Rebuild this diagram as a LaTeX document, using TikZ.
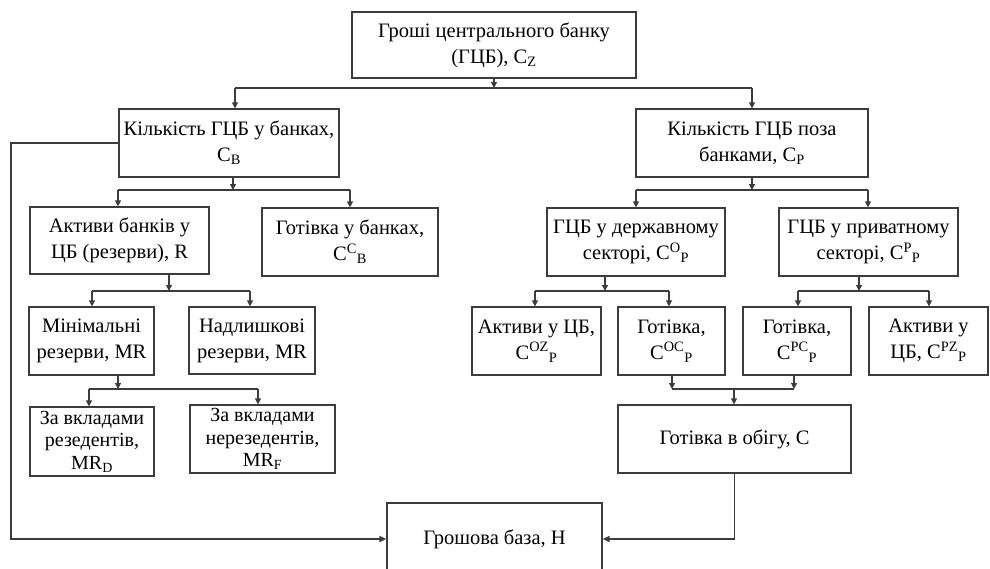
\documentclass[tikz,border=0pt]{standalone}
\usepackage{fontspec}
\setmainfont{Liberation Serif}
\usetikzlibrary{arrows.meta}
\definecolor{ink}{HTML}{3C3C3C}
\tikzset{
  box/.style={draw=ink, line width=1.2pt, align=center, inner sep=0pt,
    font=\fontsize{20.5}{26}\selectfont, text=black},
  tight/.style={font=\fontsize{20}{22.5}\selectfont},
  link/.style={draw=ink, line width=1.2pt},
  arr/.style={link, -{Triangle[length=6pt,width=6pt]}},
  trunk/.style={draw=ink, line width=1.8pt, -{Triangle[length=7pt,width=6pt]}}
}
\begin{document}
\begin{tikzpicture}[x=1pt,y=-1pt]
\useasboundingbox (0,0) rectangle (990,568);

% boxes
\node[box, minimum width=284pt, minimum height=66pt] (T)  at (494,45)    {Гроші центрального банку\\(ГЦБ), C\textsubscript{Z}};
\node[box, minimum width=220pt, minimum height=68pt] (B1) at (229,143)   {Кількість ГЦБ у банках,\\C\textsubscript{B}};
\node[box, minimum width=232pt, minimum height=68pt] (B2) at (752,143)   {Кількість ГЦБ поза\\банками, C\textsubscript{P}};
\node[box, minimum width=179pt, minimum height=67pt] (R)  at (119.5,240.5) {Активи банків у\\ЦБ (резерви), R};
\node[box, minimum width=176pt, minimum height=68pt] (CB) at (350,242)   {Готівка у банках,\\C\textsuperscript{C}\textsubscript{B}};
\node[box, minimum width=125pt, minimum height=68pt] (MR) at (91.5,341)  {Мінімальні\\резерви, MR};
\node[box, minimum width=126pt, minimum height=67pt] (ER) at (252,340.5) {Надлишкові\\резерви, MR};
\node[box, tight, minimum width=124pt, minimum height=69pt] (D)  at (92,441.5)  {За вкладами\\резедентів,\\MR\textsubscript{D}};
\node[box, tight, minimum width=145pt, minimum height=68pt] (F)  at (262.5,439) {За вкладами\\нерезедентів,\\MR\textsubscript{F}};
\node[box, minimum width=178pt, minimum height=68pt] (O)  at (636,242)   {ГЦБ у державному\\секторі, C\textsuperscript{O}\textsubscript{P}};
\node[box, minimum width=179pt, minimum height=68pt] (P)  at (868.5,242) {ГЦБ у приватному\\секторі, C\textsuperscript{P}\textsubscript{P}};
\node[box, minimum width=129pt, minimum height=68pt] (OZ) at (536.5,341) {Активи у ЦБ,\\C\textsuperscript{OZ}\textsubscript{P}};
\node[box, minimum width=107pt, minimum height=68pt] (OC) at (671.5,341) {Готівка,\\C\textsuperscript{OC}\textsubscript{P}};
\node[box, minimum width=108pt, minimum height=68pt] (PC) at (797,341)   {Готівка,\\C\textsuperscript{PC}\textsubscript{P}};
\node[box, minimum width=119pt, minimum height=68pt] (PZ) at (928.5,341) {Активи у\\ЦБ, C\textsuperscript{PZ}\textsubscript{P}};
\node[box, minimum width=233pt, minimum height=68pt] (C)  at (734.5,439) {Готівка в обігу, C};
\node[box, minimum width=215pt, minimum height=72pt] (H)  at (494.5,539) {Грошова база, H};

% junction points of the forks
\coordinate (jT)  at (494,88);  \coordinate (jTl) at (235,88);  \coordinate (jTr) at (752,88);
\coordinate (j1)  at (233,190); \coordinate (j1l) at (118,190); \coordinate (j1r) at (350,190);
\coordinate (j2)  at (169,291); \coordinate (j2l) at (92,291);  \coordinate (j2r) at (250,291);
\coordinate (j3)  at (118,389); \coordinate (j3l) at (89,389);  \coordinate (j3r) at (258,389);
\coordinate (j4)  at (752,190); \coordinate (j4l) at (636,190); \coordinate (j4r) at (868,190);
\coordinate (j5)  at (605,291); \coordinate (j5l) at (535,291); \coordinate (j5r) at (669,291);
\coordinate (j6)  at (859,291); \coordinate (j6l) at (798,291); \coordinate (j6r) at (929,291);
\coordinate (j7)  at (734,389); \coordinate (j7l) at (672,389); \coordinate (j7r) at (794,389);
\coordinate (lft) at (11,0);

% top level
\draw[arr] (T.south) -- (jT);
\draw[link] (jTl) -- (jTr);
\draw[arr] (jTl) -- (jTl |- B1.north);
\draw[arr] (jTr) -- (jTr |- B2.north);

% banks branch
\draw[arr] (j1 |- B1.south) -- (j1);
\draw[link] (j1l) -- (j1r);
\draw[arr] (j1l) -- (j1l |- R.north);
\draw[arr] (j1r) -- (j1r |- CB.north);

\draw[arr] (j2 |- R.south) -- (j2);
\draw[link] (j2l) -- (j2r);
\draw[arr] (j2l) -- (j2l |- MR.north);
\draw[arr] (j2r) -- (j2r |- ER.north);

\draw[arr] (j3 |- MR.south) -- (j3);
\draw[link] (j3l) -- (j3r);
\draw[arr] (j3l) -- (j3l |- D.north);
\draw[arr] (j3r) -- (j3r |- F.north);

% outside-banks branch
\draw[arr] (j4 |- B2.south) -- (j4);
\draw[link] (j4l) -- (j4r);
\draw[arr] (j4l) -- (j4l |- O.north);
\draw[arr] (j4r) -- (j4r |- P.north);

\draw[arr] (j5 |- O.south) -- (j5);
\draw[link] (j5l) -- (j5r);
\draw[arr] (j5l) -- (j5l |- OZ.north);
\draw[arr] (j5r) -- (j5r |- OC.north);

\draw[arr] (j6 |- P.south) -- (j6);
\draw[link] (j6l) -- (j6r);
\draw[arr] (j6l) -- (j6l |- PC.north);
\draw[arr] (j6r) -- (j6r |- PZ.north);

% cash merges into currency in circulation
\draw[arr] (j7l |- OC.south) -- (j7l);
\draw[arr] (j7r |- PC.south) -- (j7r);
\draw[link] (j7l) -- (j7r);
\draw[arr] (j7) -- (j7 |- C.north);

% monetary base
\draw[trunk] (C.south) |- (H.east);
\draw[trunk] (B1.west) -- (B1.west -| lft) -- (lft |- H.west) -- (H.west);
\end{tikzpicture}
\end{document}
